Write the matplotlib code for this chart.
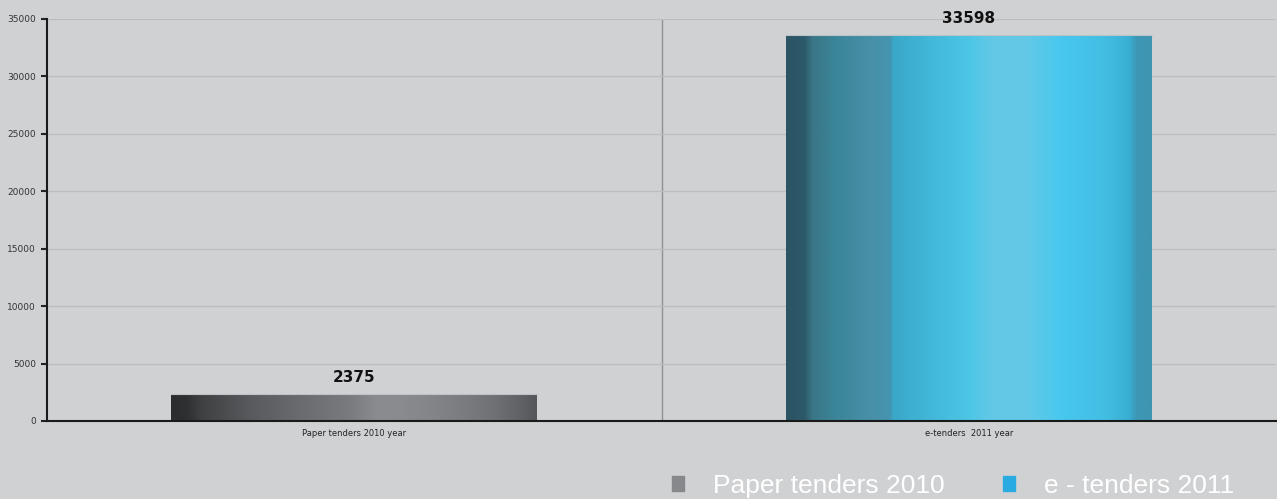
import matplotlib.pyplot as plt
import numpy as np
from matplotlib.colors import LinearSegmentedColormap
from matplotlib.patches import Rectangle

categories = ["Paper tenders 2010 year", "e-tenders  2011 year"]
values = [2375, 33598]
legend_labels = ["Paper tenders 2010", "e - tenders 2011"]
legend_colors = ["#87888c", "#29abe2"]
y_ticks = [0, 5000, 10000, 15000, 20000, 25000, 30000, 35000]

BG = "#d0d1d3"

# horizontal shading stops for the two bars
gray_stops = [(0.0, "#2c2d2f"), (0.04, "#2e2f31"), (0.08, "#3f4042"), (0.21, "#58595c"),
              (0.35, "#6a6b6e"), (0.49, "#7a7b7f"), (0.56, "#8a8b8f"), (0.62, "#8a8b8f"),
              (0.70, "#85868a"), (0.81, "#7a7b7f"), (0.89, "#6f7074"), (0.96, "#606165"),
              (1.0, "#55565a")]
blue_stops = [(0.0, "#2b5464"), (0.05, "#2d5a6b"), (0.07, "#3a7586"), (0.13, "#3a8598"),
              (0.23, "#4890a8"), (0.285, "#4595b0"), (0.292, "#3aa8c8"), (0.40, "#42b8da"),
              (0.50, "#4cc6e6"), (0.56, "#62c8e6"), (0.66, "#63c9e7"), (0.75, "#48c8ef"),
              (0.88, "#42bde2"), (0.94, "#38aed2"), (0.96, "#3d98b5"), (1.0, "#3d95b2")]
cmaps = [LinearSegmentedColormap.from_list("gray_bar", gray_stops),
         LinearSegmentedColormap.from_list("blue_bar", blue_stops)]

fig = plt.figure(figsize=(12.77, 4.99), dpi=100, facecolor=BG)
ax = fig.add_axes([47 / 1277, 78 / 499, 1229 / 1277, 402 / 499])
ax.set_facecolor(BG)

x = np.arange(len(categories))
width = 0.595
bars = ax.bar(x, values, width=width, color="none", edgecolor="none", zorder=3)

grad = np.linspace(0, 1, 512).reshape(1, -1)
for bar, cmap in zip(bars, cmaps):
    x0, w, h = bar.get_x(), bar.get_width(), bar.get_height()
    im = ax.imshow(grad, cmap=cmap, aspect="auto", extent=(x0, x0 + w, 0, h),
                   zorder=3, interpolation="bilinear")
    im.set_clip_path(bar)
    # thin light rim along the top
    ax.plot([x0, x0 + w], [h, h], color="#b8c4c8", lw=0.8, zorder=4)

for xi, v in zip(x, values):
    ax.annotate(str(v), (xi, v), xytext=(0, 6.5), textcoords="offset points",
                ha="center", va="bottom", fontsize=11, fontweight="bold", color="#111111")

ax.set_xlim(-0.5, 1.5)
ax.set_ylim(0, 35000)
ax.set_yticks(y_ticks)
ax.set_yticklabels([str(t) for t in y_ticks], fontsize=6.5, color="#333333")
ax.set_xticks(x)
ax.set_xticklabels(categories, fontsize=6, color="#222222")
ax.tick_params(axis="x", length=0, pad=6)
ax.tick_params(axis="y", length=4, width=1.5, color="#222222", pad=4)

ax.grid(axis="y", color="#bcbdbf", lw=1, zorder=0)
ax.axvline(0.5, color="#8f9092", lw=1, zorder=1)

for side in ["top", "right"]:
    ax.spines[side].set_visible(False)
ax.spines["left"].set_color("#1a1a1a")
ax.spines["left"].set_linewidth(1.5)
ax.spines["bottom"].set_color("#1a1a1a")
ax.spines["bottom"].set_linewidth(1.5)
ax.spines["bottom"].set_zorder(5)

handles = [Rectangle((0, 0), 1, 1, color=c) for c in legend_colors]
fig.legend(handles, legend_labels, loc="center left", bbox_to_anchor=(672 / 1277, 1 - 486 / 499),
           ncol=2, frameon=False, prop={"family": "Liberation Sans", "size": 19},
           labelcolor="white", handlelength=0.46, handleheight=0.46,
           handletextpad=1.1, columnspacing=2.2, borderaxespad=0, borderpad=0)

fig.savefig("out.png", dpi=100, facecolor=BG)
